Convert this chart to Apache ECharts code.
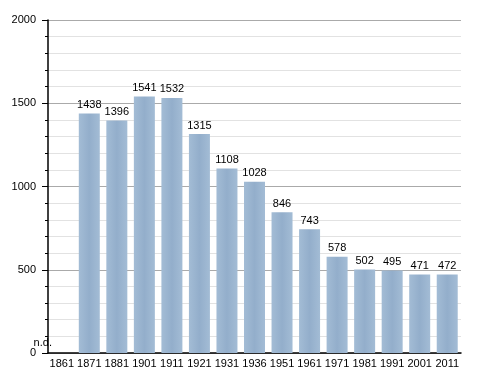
<!DOCTYPE html>
<html>
<head>
<meta charset="utf-8">
<script src="https://cdn.jsdelivr.net/npm/echarts@6/dist/echarts.min.js"></script>
<style>html,body{margin:0;padding:0;background:#fff}#c{width:488px;height:373px}</style>
</head>
<body>
<div id="c"></div>
<script>
const years = ['1861','1871','1881','1901','1911','1921','1931','1936','1951','1961','1971','1981','1991','2001','2011'];
const population = [null,1438,1396,1541,1532,1315,1108,1028,846,743,578,502,495,471,472];
const missingLabel = 'n.d.';
const yTicks = [0,500,1000,1500,2000];

const chart = echarts.init(document.getElementById('c'), null, {renderer:'canvas'});
const font = 'Liberation Sans, Arial, sans-serif';
const barColor = new echarts.graphic.LinearGradient(0,0,1,0,[
  {offset:0,color:'#a3bcd5'},{offset:0.5,color:'#93aecb'},{offset:1,color:'#a3bcd5'}
]);
const data = population.map(v => v === null
  ? {value:0, label:{show:true, formatter:missingLabel, position:'top', offset:[-19,-5], distance:0}}
  : {value:v});
chart.setOption({
  animation:false,
  grid:{left:48, right:27, top:20, bottom:20},
  xAxis:{
    type:'category', data:years, boundaryGap:true,
    axisLine:{lineStyle:{color:'#000', width:1.5}},
    axisTick:{show:false},
    axisLabel:{color:'#000', fontFamily:font, fontSize:11, interval:0, margin:5}
  },
  yAxis:{
    type:'value', min:yTicks[0], max:yTicks[yTicks.length-1], interval:500,
    axisLine:{show:true, lineStyle:{color:'#000', width:1.5}},
    axisTick:{show:true, length:6, lineStyle:{color:'#000'}},
    minorTick:{show:true, splitNumber:5, length:3, lineStyle:{color:'#000'}},
    splitLine:{lineStyle:{color:'#aaaaaa', width:1}},
    minorSplitLine:{show:true, lineStyle:{color:'#e2e2e2', width:1}},
    axisLabel:{color:'#000', fontFamily:font, fontSize:11, margin:12, formatter:v => String(v)}
  },
  series:[{
    type:'bar', data:data, barWidth:21,
    itemStyle:{color:barColor},
    label:{show:true, position:'top', distance:3, color:'#000', fontFamily:font, fontSize:11}
  }]
});
</script>
</body>
</html>
